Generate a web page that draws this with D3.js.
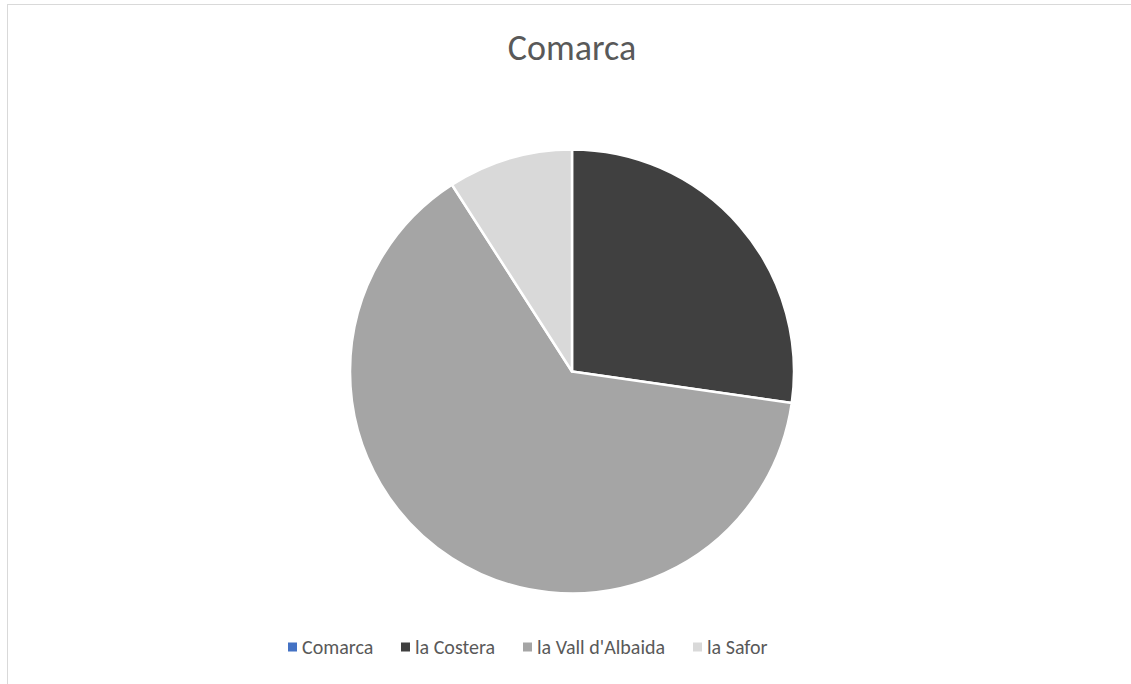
<!DOCTYPE html>
<html>
<head>
<meta charset="utf-8">
<script src="https://cdn.jsdelivr.net/npm/d3@7"></script>
<style>
  html, body { margin: 0; padding: 0; background: #fff; }
  svg { display: block; }
  text { font-family: Carlito, Calibri, Lato, "Open Sans", sans-serif; fill: #595959; }
</style>
</head>
<body>
<svg id="chart" width="1131" height="684"></svg>
<script>
const title = "Comarca";
const categories = ["Comarca", "la Costera", "la Vall d'Albaida", "la Safor"];
const values = [0, 3, 7, 1];
const colors = ["#4472C4", "#404040", "#A5A5A5", "#D9D9D9"];

const W = 1131, H = 684;
const svg = d3.select("#chart");

// chart area border
svg.append("rect")
  .attr("x", 7.5).attr("y", 4.5)
  .attr("width", W + 20).attr("height", H + 20)
  .attr("fill", "#fff")
  .attr("stroke", "#D9D9D9").attr("stroke-width", 1);

// title
svg.append("text")
  .attr("x", 572).attr("y", 60)
  .attr("text-anchor", "middle")
  .style("font-size", "36px")
  .style("font-weight", 300)
  .text(title);

// pie
const cx = 572, cy = 371.5, r = 222;
const data = categories.map((c, i) => ({ name: c, value: values[i], color: colors[i] }));
const pie = d3.pie().value(d => d.value).sort(null);
const arc = d3.arc().innerRadius(0).outerRadius(r);

svg.append("g")
  .attr("transform", `translate(${cx},${cy})`)
  .selectAll("path")
  .data(pie(data).filter(d => d.data.value > 0))
  .join("path")
  .attr("d", arc)
  .attr("fill", d => d.data.color)
  .attr("stroke", "#fff")
  .attr("stroke-width", 2.5)
  .attr("stroke-linejoin", "round");

// legend
const legendX = [288, 401, 523, 693];
const legendY = 647;
const lg = svg.append("g");
data.forEach((d, i) => {
  lg.append("rect")
    .attr("x", legendX[i]).attr("y", legendY - 4.5)
    .attr("width", 9).attr("height", 9)
    .attr("fill", d.color);
  lg.append("text")
    .attr("x", legendX[i] + 14).attr("y", legendY)
    .attr("dy", "0.35em")
    .style("font-size", "20px")
    .text(d.name);
});
</script>
</body>
</html>
